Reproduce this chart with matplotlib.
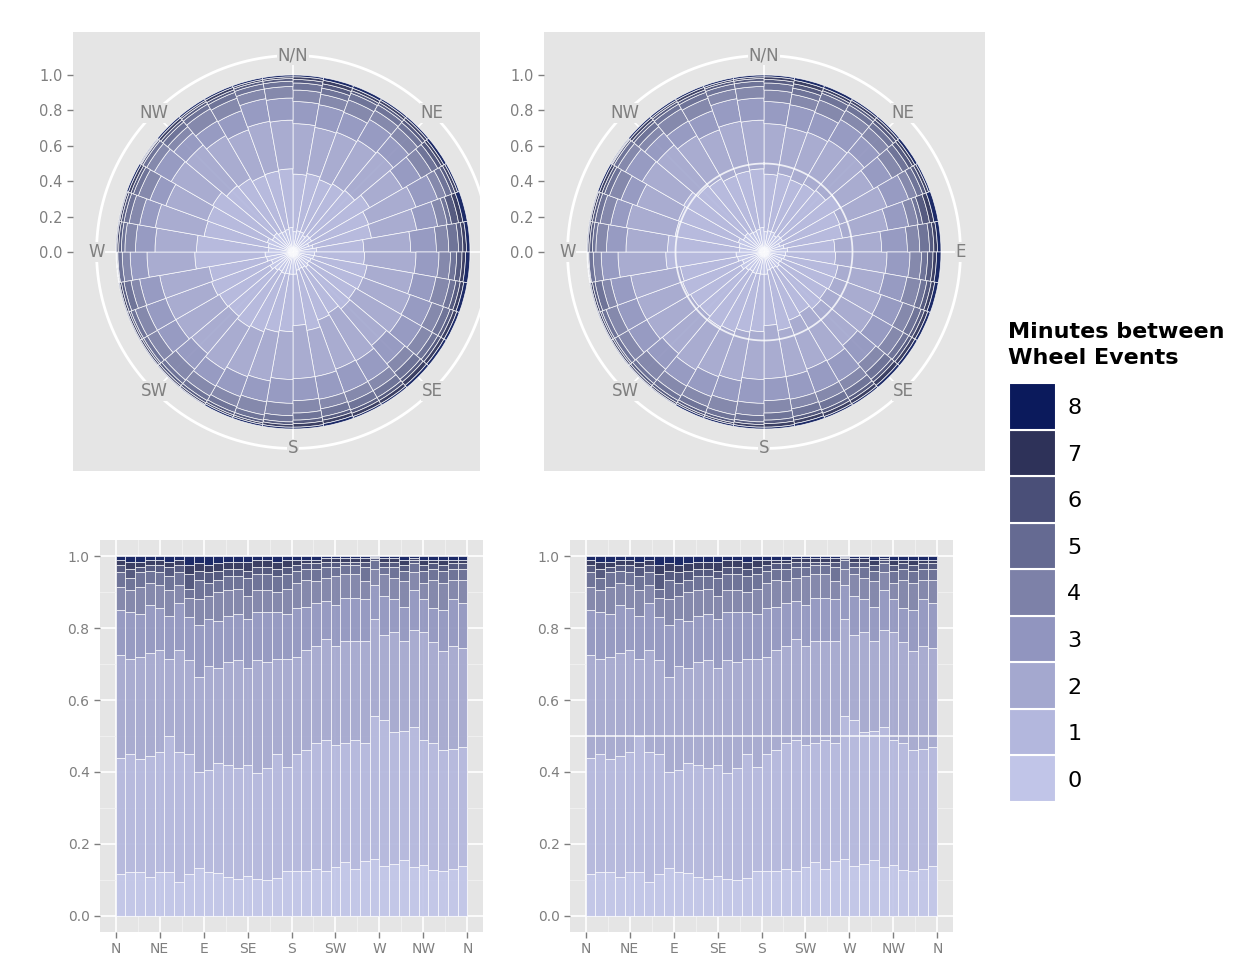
import numpy as np
import matplotlib
matplotlib.use("Agg")
import matplotlib.pyplot as plt

# -------------------------
# Data: cumulative share per 10-degree heading bin (N -> N), level 0..8
# -------------------------
levels = ["0", "1", "2", "3", "4", "5", "6", "7", "8"]
colors = ["#c1c5e8", "#b3b7dd", "#a4a8cf", "#9195bf", "#7d81a8",
          "#656a92", "#4a4f78", "#2e3259", "#0b1a5c"]

top0 = [0.115, 0.122, 0.122, 0.108, 0.122, 0.122, 0.095, 0.115, 0.133, 0.122,
        0.118, 0.108, 0.103, 0.112, 0.103, 0.100, 0.105, 0.126, 0.126, 0.126,
        0.130, 0.126, 0.135, 0.150, 0.130, 0.152, 0.158, 0.138, 0.143, 0.155,
        0.135, 0.140, 0.128, 0.125, 0.130, 0.138]
top1 = [0.440, 0.450, 0.435, 0.445, 0.455, 0.500, 0.455, 0.450, 0.400, 0.405,
        0.425, 0.420, 0.410, 0.420, 0.398, 0.410, 0.450, 0.415, 0.450, 0.460,
        0.480, 0.490, 0.475, 0.480, 0.490, 0.480, 0.555, 0.545, 0.510, 0.515,
        0.525, 0.490, 0.480, 0.460, 0.465, 0.470]
top2 = [0.725, 0.715, 0.720, 0.730, 0.740, 0.715, 0.740, 0.710, 0.665, 0.695,
        0.690, 0.705, 0.710, 0.690, 0.710, 0.705, 0.715, 0.715, 0.720, 0.740,
        0.750, 0.770, 0.750, 0.765, 0.765, 0.765, 0.825, 0.780, 0.790, 0.765,
        0.795, 0.790, 0.760, 0.735, 0.750, 0.745]
top3 = [0.850, 0.845, 0.840, 0.865, 0.855, 0.835, 0.870, 0.830, 0.810, 0.825,
        0.820, 0.835, 0.840, 0.825, 0.845, 0.845, 0.845, 0.840, 0.855, 0.860,
        0.870, 0.875, 0.865, 0.885, 0.885, 0.880, 0.920, 0.890, 0.880, 0.860,
        0.905, 0.880, 0.855, 0.850, 0.880, 0.870]
top4 = [0.915, 0.905, 0.915, 0.925, 0.920, 0.905, 0.920, 0.885, 0.880, 0.890,
        0.900, 0.905, 0.910, 0.890, 0.905, 0.905, 0.900, 0.910, 0.925, 0.935,
        0.930, 0.940, 0.945, 0.950, 0.950, 0.930, 0.965, 0.950, 0.940, 0.930,
        0.955, 0.925, 0.935, 0.925, 0.935, 0.935]
top5 = [0.955, 0.940, 0.955, 0.960, 0.955, 0.945, 0.955, 0.910, 0.935, 0.925,
        0.935, 0.945, 0.945, 0.940, 0.950, 0.950, 0.945, 0.950, 0.960, 0.965,
        0.965, 0.970, 0.970, 0.975, 0.975, 0.970, 0.990, 0.970, 0.970, 0.960,
        0.980, 0.960, 0.965, 0.960, 0.965, 0.965]
top6 = [0.975, 0.965, 0.970, 0.975, 0.975, 0.970, 0.975, 0.950, 0.960, 0.955,
        0.960, 0.965, 0.965, 0.960, 0.970, 0.970, 0.965, 0.970, 0.975, 0.980,
        0.980, 0.985, 0.985, 0.985, 0.985, 0.985, 0.995, 0.985, 0.985, 0.975,
        0.990, 0.975, 0.980, 0.975, 0.980, 0.980]
top7 = [0.990, 0.985, 0.985, 0.990, 0.990, 0.985, 0.990, 0.975, 0.980, 0.975,
        0.980, 0.985, 0.985, 0.985, 0.990, 0.990, 0.985, 0.990, 0.990, 0.990,
        0.990, 0.995, 0.995, 0.995, 0.995, 0.995, 0.998, 0.995, 0.995, 0.990,
        0.995, 0.990, 0.990, 0.990, 0.990, 0.990]
top8 = [1.0] * 36

tops = np.array([top0, top1, top2, top3, top4, top5, top6, top7, top8])
bottoms = np.vstack([np.zeros(36), tops[:-1]])
heights = tops - bottoms
bin_left = np.arange(0, 360, 10)

dir_labels = ["N", "NE", "E", "SE", "S", "SW", "W", "NW", "N"]
dir_pos = np.arange(0, 361, 45)

BG = "#e5e5e5"
GREY = "#7f7f7f"
W, H = 1234, 974
fig = plt.figure(figsize=(12.34, 9.74), dpi=100)


def fbox(x0, y0, x1, y1):
    # pixel box (top-left origin) -> figure fraction
    return [x0 / W, 1 - y1 / H, (x1 - x0) / W, (y1 - y0) / H]


# -------------------------
# Polar panels
# -------------------------
PX = 177.0  # pixels per unit radius
ROUT = 1.11


def polar_panel(x0, x1, cx, show_e, ring):
    y0, y1, cy = 32, 471, 252
    bg = fig.add_axes(fbox(x0, y0, x1, y1))
    bg.set_facecolor(BG)
    bg.set_xlim(-(cx - x0) / PX, (x1 - cx) / PX)
    bg.set_ylim(-(y1 - cy) / PX, (cy - y0) / PX)
    for s in bg.spines.values():
        s.set_visible(False)
    bg.set_xticks([])
    bg.set_yticks(np.arange(0, 1.01, 0.2))
    bg.set_yticklabels([f"{v:.1f}" for v in np.arange(0, 1.01, 0.2)])
    bg.tick_params(axis="y", colors=GREY, labelsize=10.5, length=4, width=1)

    R = ROUT * PX
    pa = fig.add_axes(fbox(cx - R, cy - R, cx + R, cy + R), projection="polar")
    pa.set_facecolor("none")
    pa.set_theta_zero_location("N")
    pa.set_theta_direction(-1)
    pa.set_ylim(0, ROUT)
    pa.grid(False)
    pa.set_xticks([])
    pa.set_yticks([])
    pa.spines["polar"].set_visible(False)

    th = np.linspace(0, 2 * np.pi, 400)
    circ, = pa.plot(th, np.full_like(th, ROUT), color="white", lw=2, zorder=1)
    circ.set_clip_path(bg.patch)
    for a in np.deg2rad(np.arange(0, 360, 45)):
        ln, = pa.plot([a, a], [0, ROUT], color="white", lw=1.2, zorder=1)
        ln.set_clip_path(bg.patch)

    theta = np.deg2rad(bin_left)
    for i in range(len(levels)):
        pa.bar(theta, heights[i], width=np.deg2rad(10), bottom=bottoms[i],
               align="edge", color=colors[i], alpha=0.92,
               edgecolor=(1, 1, 1, 0.15), linewidth=0.5, zorder=2)
    if ring:
        pa.plot(th, np.full_like(th, 0.5), color="white", lw=1.3, alpha=0.8, zorder=3)

    names = ["N/N", "NE", "E", "SE", "S", "SW", "W", "NW"]
    for k, nm in enumerate(names):
        if nm == "E" and not show_e:
            continue
        pa.text(np.deg2rad(45 * k), ROUT, nm, ha="center", va="center",
                color=GREY, fontsize=12, zorder=4,
                bbox=dict(facecolor=BG, edgecolor="none", pad=0.5))


polar_panel(73, 480, 293, False, False)
polar_panel(544, 985, 764, True, True)


# -------------------------
# Stacked bar panels
# -------------------------
def bar_panel(x0, x1, hline):
    ax = fig.add_axes(fbox(x0, 540, x1, 932))
    ax.set_facecolor(BG)
    for i in range(len(levels)):
        ax.bar(bin_left, heights[i], width=10, bottom=bottoms[i], align="edge",
               color=colors[i], alpha=0.92, edgecolor=(1, 1, 1, 0.12),
               linewidth=0.5, zorder=2)
    ax.set_xlim(-16, 376)
    ax.set_ylim(-0.045, 1.045)
    ax.set_xticks(dir_pos)
    ax.set_xticklabels(dir_labels)
    ax.set_xticks(np.arange(22.5, 360, 45), minor=True)
    ax.set_yticks(np.arange(0, 1.01, 0.2))
    ax.set_yticklabels([f"{v:.1f}" for v in np.arange(0, 1.01, 0.2)])
    ax.set_yticks(np.arange(0.1, 1.0, 0.2), minor=True)
    ax.grid(which="major", color="white", lw=1.2, zorder=0)
    ax.grid(which="minor", color="#f2f2f2", lw=0.6, zorder=0)
    ax.set_axisbelow(True)
    for s in ax.spines.values():
        s.set_visible(False)
    ax.tick_params(colors=GREY, labelsize=10, length=4, width=1)
    ax.tick_params(which="minor", length=0)
    if hline:
        ax.axhline(0.5, color="white", lw=1.2, alpha=0.85, zorder=3)


bar_panel(100, 483, False)
bar_panel(570, 953, True)

# -------------------------
# Legend
# -------------------------
lg = fig.add_axes(fbox(1009, 383, 1056, 802))
for i in range(len(levels)):
    lg.bar(0, 1, bottom=i, width=1, color=colors[i], edgecolor="white", linewidth=1.5)
lg.set_xlim(-0.5, 0.5)
lg.set_ylim(0, len(levels))
lg.set_xticks([])
lg.set_yticks(np.arange(len(levels)) + 0.5)
lg.set_yticklabels(levels)
lg.yaxis.tick_right()
lg.tick_params(axis="y", length=0, labelsize=16, pad=8)
for s in lg.spines.values():
    s.set_visible(False)
fig.text(1008 / W, 1 - 345 / H, "Minutes between\nWheel Events", ha="left",
         va="center", fontsize=16, fontweight="bold", linespacing=1.4)

fig.savefig("out.png", dpi=100)
